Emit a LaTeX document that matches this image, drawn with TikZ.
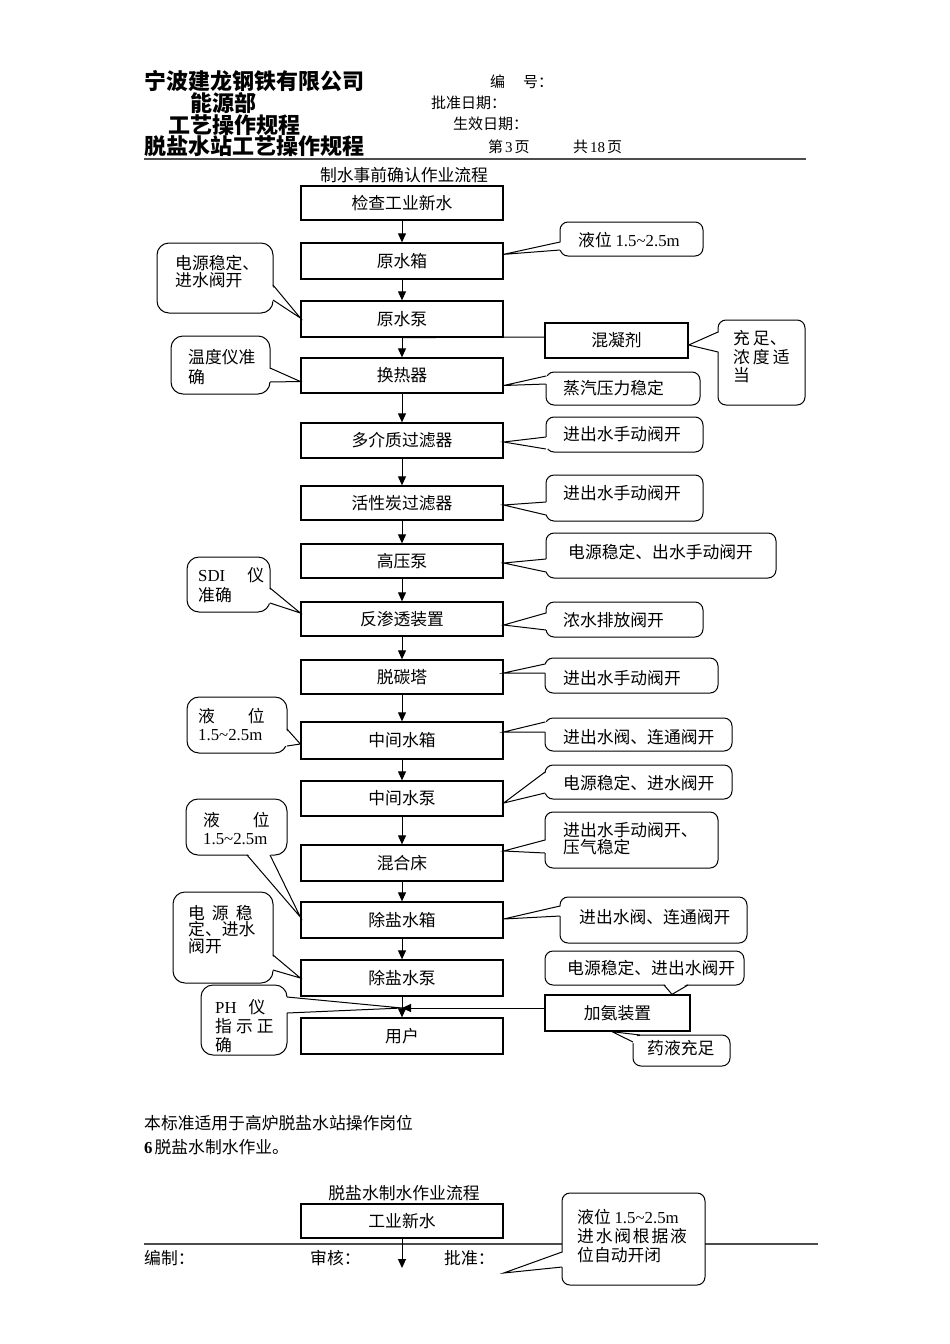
\documentclass[tikz,border=0pt]{standalone}
\usepackage{fontspec}
\setmainfont{Noto Sans CJK SC}
\newfontfamily\lat{Liberation Serif}
\usetikzlibrary{arrows.meta,calc}
\newcommand\fz{\fontsize{16.8}{18.5}\selectfont}
\newcommand\fhd{\fontsize{15}{17}\selectfont}
\newcommand\fttl{\fontsize{22}{24}\selectfont\bfseries}
\newcommand\lead[1]{\fontsize{16.8}{#1}\selectfont}
\newcommand\callptr[4]{%
  \fill[white] ($(#1)+(#4)$) -- (#3) -- ($(#2)+(#4)$) -- cycle;
  \draw[cline] (#1) -- (#3) -- (#2);}
\tikzset{
 mbox/.style={draw, line width=1.3pt, minimum width=202pt, inner sep=0pt, font=\fz},
 cbox/.style={draw, line width=1pt, fill=white, rounded corners=8pt, inner sep=0pt},
 lbox/.style={cbox, rounded corners=12pt},
 rbox/.style={draw, line width=1.3pt, fill=white, inner sep=0pt, font=\fz},
 txt/.style={anchor=west, inner sep=0pt, font=\fz, align=left},
 cline/.style={line width=1pt},
 arr/.style={line width=1pt, -{Triangle[length=9pt,width=8pt]}},
 hd/.style={anchor=west, inner sep=0pt, font=\fhd},
 ttl/.style={anchor=west, inner sep=0pt, font=\fttl},
 sepline/.style={line width=2pt, black!70},
}
\begin{document}
\begin{tikzpicture}[x=1pt,y=-1pt]
\path[fill=white, use as bounding box] (0,0) rectangle (950,1344);

% ---------- header ----------
\node[ttl] (h1) at (144,81) {宁波建龙钢铁有限公司};
\node[ttl] (h2) at (190,103) {能源部};
\node[ttl] (h3) at (168,125) {工艺操作规程};
\node[ttl] (h4) at (144,146) {脱盐水站工艺操作规程};
\node[hd] (h5) at (490,82) {编\hspace{18pt}号：};
\node[hd] (h6) at (431,103) {批准日期：};
\node[hd] (h7) at (453,124) {生效日期：};
\node[hd] (h8) at (488,147) {第\hspace{2pt}{\lat 3}\hspace{2pt}页};
\node[hd] (h9) at (573,147) {共\hspace{2pt}{\lat 18}\hspace{2pt}页};
\coordinate (hl1) at (144,159);
\coordinate (hl2) at (806,159);
\draw[sepline] (hl1) -- (hl2);
\node[inner sep=0pt, font=\fz] (t1) at (404,175) {制水事前确认作业流程};

% ---------- main chain ----------
\node[mbox, minimum height=34pt] (b1) at (402,203) {检查工业新水};
\node[mbox, minimum height=36pt] (b2) at (402,261) {原水箱};
\node[mbox, minimum height=36pt] (b3) at (402,319) {原水泵};
\node[mbox, minimum height=35pt] (b4) at (402,375.5) {换热器};
\node[mbox, minimum height=35pt] (b5) at (402,440.5) {多介质过滤器};
\node[mbox, minimum height=34pt] (b6) at (402,503) {活性炭过滤器};
\node[mbox, minimum height=34pt] (b7) at (402,561) {高压泵};
\node[mbox, minimum height=34pt] (b8) at (402,619) {反渗透装置};
\node[mbox, minimum height=34pt] (b9) at (402,677) {脱碳塔};
\node[mbox, minimum height=37pt] (b10) at (402,740.5) {中间水箱};
\node[mbox, minimum height=35pt] (b11) at (402,798.5) {中间水泵};
\node[mbox, minimum height=36pt] (b12) at (402,863) {混合床};
\node[mbox, minimum height=36pt] (b13) at (402,920) {除盐水箱};
\node[mbox, minimum height=36pt] (b14) at (402,978) {除盐水泵};
\node[mbox, minimum height=36pt] (b15) at (402,1036) {用户};

% ---------- side boxes ----------
\node[rbox, minimum width=143pt, minimum height=35pt] (hnj) at (616.5,340.5) {混凝剂};
\draw[cline] ($(hnj.west)+(0,-3.5)$) -- (b3.south);
\node[rbox, minimum width=145pt, minimum height=36pt] (ajz) at (617.5,1013) {加氨装置};
\coordinate (j1) at (402,1008);

% ---------- right callouts ----------
\node[cbox, minimum width=143pt, minimum height=34pt] (r1) at (631.5,239) {};
\node[txt] (r1t) at (578,240) {液位 {\lat 1.5\textasciitilde2.5m}};
\coordinate (r1a) at (560,242); \coordinate (r1b) at (560,250);
\callptr{r1a}{r1b}{$(b2.north east)+(0,12)$}{2,0}

\node[cbox, minimum width=87pt, minimum height=85pt] (r3) at (761.5,362.5) {};
\node[txt] (r3t) at (733,357) {充\hspace{3pt}足、\\浓\hspace{3pt}度\hspace{3pt}适\\当};
\coordinate (r3a) at (718,332); \coordinate (r3b) at (718,352);
\callptr{r3a}{r3b}{$(hnj.east)+(0,4.5)$}{2,0}

\node[cbox, minimum width=154pt, minimum height=33pt] (r4) at (623,388.5) {};
\node[txt] (r4t) at (563,388) {蒸汽压力稳定};
\coordinate (r4a) at (546,376); \coordinate (r4b) at (546,384);
\callptr{r4a}{r4b}{$(b4.east)+(0,10)$}{2,0}

\node[cbox, minimum width=157pt, minimum height=35pt] (r5) at (624.5,434.5) {};
\node[txt] (r5t) at (563,434) {进出水手动阀开};
\coordinate (r5a) at (546,437); \coordinate (r5b) at (546,449);
\callptr{r5a}{r5b}{$(b5.east)+(0,1.5)$}{2,0}

\node[cbox, minimum width=157pt, minimum height=46pt] (r6) at (624.5,498) {};
\node[txt] (r6t) at (563,493) {进出水手动阀开};
\coordinate (r6a) at (546,502); \coordinate (r6b) at (546,515);
\callptr{r6a}{r6b}{$(b6.east)+(0,2)$}{2,0}

\node[cbox, minimum width=230pt, minimum height=45pt] (r7) at (661,555.5) {};
\node[txt] (r7t) at (568,552) {电源稳定、出水手动阀开};
\coordinate (r7a) at (546,559); \coordinate (r7b) at (546,572);
\callptr{r7a}{r7b}{$(b7.east)+(0,2)$}{2,0}

\node[cbox, minimum width=157pt, minimum height=35pt] (r8) at (624.5,619.5) {};
\node[txt] (r8t) at (563,620) {浓水排放阀开};
\coordinate (r8a) at (546,613); \coordinate (r8b) at (546,630);
\callptr{r8a}{r8b}{$(b8.east)+(0,6)$}{2,0}

\node[cbox, minimum width=173pt, minimum height=35pt] (r9) at (631.5,675.5) {};
\node[txt] (r9t) at (563,678) {进出水手动阀开};
\coordinate (r9a) at (545,664); \coordinate (r9b) at (545,673);
\callptr{r9a}{r9b}{$(b9.east)+(0,-4)$}{2,0}

\node[cbox, minimum width=187pt, minimum height=33pt] (r10) at (638.5,734.5) {};
\node[txt] (r10t) at (563,737) {进出水阀、连通阀开};
\coordinate (r10a) at (545,722); \coordinate (r10b) at (545,732);
\callptr{r10a}{r10b}{$(b10.east)+(0,-8.5)$}{2,0}

\node[cbox, minimum width=187pt, minimum height=34pt] (r11) at (638.5,782) {};
\node[txt] (r11t) at (563,783) {电源稳定、进水阀开};
\coordinate (r11a) at (545,772); \coordinate (r11b) at (545,793);
\callptr{r11a}{r11b}{$(b11.east)+(0,4.5)$}{2,0}

\node[cbox, minimum width=173pt, minimum height=56pt] (r12) at (631.5,840) {};
\node[txt, font=\lead{17}] (r12t) at (563,838.5) {进出水手动阀开、\\压气稳定};
\coordinate (r12a) at (545,840); \coordinate (r12b) at (545,853);
\callptr{r12a}{r12b}{$(b12.east)+(0,-12)$}{2,0}

\node[cbox, minimum width=187pt, minimum height=46pt] (r13) at (653.5,920) {};
\node[txt] (r13t) at (579,917) {进出水阀、连通阀开};
\coordinate (r13a) at (560,906); \coordinate (r13b) at (560,916);
\callptr{r13a}{r13b}{$(b13.east)+(0,-1)$}{2,0}

\node[cbox, minimum width=199pt, minimum height=34pt] (r14) at (644.5,968) {};
\node[txt] (r14t) at (567,968) {电源稳定、进出水阀开};
\coordinate (r14a) at (664,985); \coordinate (r14b) at (688,985);
\callptr{r14a}{r14b}{$(ajz.north)+(54.5,0)$}{0,-2}

\node[cbox, minimum width=97pt, minimum height=31pt] (r16) at (681.5,1050.5) {};
\node[txt] (r16t) at (647,1048) {药液充足};
\coordinate (r16a) at (640,1035); \coordinate (r16b) at (633,1042);
\callptr{r16a}{r16b}{$(ajz.south)+(-5.5,0)$}{2,2}

% ---------- left callouts ----------
\node[lbox, minimum width=116pt, minimum height=70pt] (l1) at (215,278) {};
\node[txt, font=\lead{17}] (l1t) at (175,271.5) {电源稳定、\\进水阀开};
\coordinate (l1a) at (273,285); \coordinate (l1b) at (273,300);
\callptr{l1a}{l1b}{$(b3.west)+(0,-1)$}{-2,0}

\node[lbox, minimum width=99pt, minimum height=58pt] (l2) at (220.5,365) {};
\node[txt, font=\lead{20}] (l2t) at (188,367) {温度仪准\\确};
\coordinate (l2a) at (270,368); \coordinate (l2b) at (270,382);
\callptr{l2a}{l2b}{$(b4.west)+(0,6)$}{-2,0}

\node[lbox, minimum width=83pt, minimum height=55pt] (l3) at (228.5,584.5) {};
\node[txt, font=\lead{20}] (l3t) at (198,585) {{\lat SDI}\hspace{22pt}仪\\准确};
\coordinate (l3a) at (270,588); \coordinate (l3b) at (270,603);
\callptr{l3a}{l3b}{$(b8.west)+(0,-6)$}{-2,0}

\node[lbox, minimum width=100pt, minimum height=56pt] (l4) at (237,725) {};
\node[txt, font=\lead{18}] (l4t) at (198,724) {液\hspace{33pt}位\\{\lat 1.5\textasciitilde2.5m}};
\coordinate (l4a) at (287,729); \coordinate (l4b) at (287,746);
\callptr{l4a}{l4b}{$(b10.west)+(0,3.5)$}{-2,0}

\node[lbox, minimum width=101pt, minimum height=56pt] (l5) at (236.5,827) {};
\node[txt, font=\lead{18}] (l5t) at (203,828) {液\hspace{33pt}位\\{\lat 1.5\textasciitilde2.5m}};
\coordinate (l5a) at (247,855); \coordinate (l5b) at (270,855);
\callptr{l5a}{l5b}{$(b13.west)+(0,-3)$}{0,-2}

\node[lbox, minimum width=100pt, minimum height=91pt] (l6) at (223,937.5) {};
\node[txt, font=\lead{16.5}] (l6t) at (188,929.5) {电\hspace{7pt}源\hspace{7pt}稳\\定、进水\\阀开};
\coordinate (l6a) at (273,955); \coordinate (l6b) at (273,970);
\callptr{l6a}{l6b}{b14.west}{-2,0}

\node[lbox, minimum width=86pt, minimum height=70pt] (l7) at (244,1020) {};
\node[txt, font=\lead{19}] (l7t) at (215,1025.7) {{\lat PH}\hspace{12pt}仪\\指\hspace{4pt}示\hspace{4pt}正\\确};
\coordinate (l7a) at (287,997); \coordinate (l7b) at (287,1013);
\callptr{l7a}{l7b}{j1}{-2,0}

% ---------- arrows ----------
\foreach \a/\b in {b1/b2,b2/b3,b3/b4,b4/b5,b5/b6,b6/b7,b7/b8,b8/b9,b9/b10,b10/b11,b11/b12,b12/b13,b13/b14,b14/b15}
  \draw[arr] (\a) -- (\b);
\draw[arr] ($(ajz.west)+(0,-5)$) -- (j1);

% ---------- lower part ----------
\node[txt] (p1) at (144,1123) {本标准适用于高炉脱盐水站操作岗位};
\node[txt] (p2) at (144,1147) {{\lat\bfseries 6}\hspace{2pt}脱盐水制水作业。};
\node[inner sep=0pt, font=\fz] (t2) at (404,1193) {脱盐水制水作业流程};
\node[mbox, minimum height=34pt] (b16) at (402,1221) {工业新水};
\coordinate (fl1) at (144,1244);
\coordinate (fl2) at (818,1244);
\draw[sepline] (fl1) -- (fl2);
\node[txt] (f1) at (144,1258) {编制：};
\node[txt] (f2) at (310,1258) {审核：};
\node[txt] (f3) at (444,1258) {批准：};
\coordinate (e1) at (402,1268);
\draw[arr] (b16) -- (e1);

\node[cbox, minimum width=143pt, minimum height=92pt] (bc) at (633.5,1239) {};
\node[txt, font=\lead{19}] (bct) at (577,1236) {液位 {\lat 1.5\textasciitilde2.5m}\\进\hspace{1.8pt}水\hspace{1.8pt}阀\hspace{1.8pt}根\hspace{1.8pt}据\hspace{1.8pt}液\\位自动开闭};
\coordinate (bca) at (562,1252); \coordinate (bcb) at (562,1267);
\callptr{bca}{bcb}{$(b16.east)+(0,52)$}{2,0}
\end{tikzpicture}
\end{document}
